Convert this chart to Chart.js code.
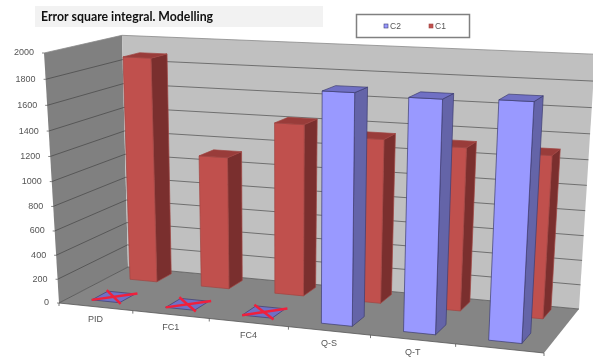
<!DOCTYPE html>
<html>
<head>
<meta charset="utf-8">
<style>
  html, body { margin: 0; padding: 0; background: #fff; }
  #wrap { width: 593px; height: 357px; }
</style>
<script src="https://cdn.jsdelivr.net/npm/chart.js@4"></script>
</head>
<body>
<div id="wrap"><canvas id="chart" width="593" height="357"></canvas></div>
<script>
const categories = ['PID', 'FC1', 'FC4', 'Q-S', 'Q-T', 'Q-F'];
const c2Values = [0, 0, 0, 1790, 1775, 1790];
const c1Values = [1875, 1105, 1410, 1330, 1305, 1285];
const yTicks = [0, 200, 400, 600, 800, 1000, 1200, 1400, 1600, 1800, 2000];

// box corners as seen in the picture
const floorQuad = [[59, 303], [544, 353], [579, 309], [128, 267]];
const frontTop = [44, 53];
const verticalVanish = [312, 4526];
const backLean = 4; // the back left corner stands a bit straighter than the perspective says
// depth rows of the two series, 0 = front edge of the floor, 1 = back wall
const rows = { C2: [0.14, 0.37], C1: [0.70, 0.93] };
const barShare = 0.38;

// unit square -> quad, plus the lift for the value axis
function makeProjection(q, top, vv) {
    const [[x0, y0], [x1, y1], [x2, y2], [x3, y3]] = q;
    const dx1 = x1 - x2, dx2 = x3 - x2, sx = x0 - x1 + x2 - x3;
    const dy1 = y1 - y2, dy2 = y3 - y2, sy = y0 - y1 + y2 - y3;
    const det = dx1 * dy2 - dx2 * dy1;
    const g = (sx * dy2 - dx2 * sy) / det;
    const h = (dx1 * sy - sx * dy1) / det;
    const a = x1 - x0 + g * x1, b = x3 - x0 + h * x3;
    const d = y1 - y0 + g * y1, e = y3 - y0 + h * y3;
    const k = (top[1] - y0) / (vv[1] - top[1]);
    // u along the categories, v into the depth, z = 0..1 up the value axis
    return (u, v, z) => {
        const w = g * u + h * v + k * z + 1;
        return [
            (a * u + b * v + vv[0] * k * z + x0) / w + backLean * z * v * (1 - u),
            (d * u + e * v + vv[1] * k * z + y0) / w
        ];
    };
}
const project = makeProjection(floorQuad, frontTop, verticalVanish);

function poly(ctx, pts, fill, stroke) {
    ctx.beginPath();
    pts.forEach((p, i) => i ? ctx.lineTo(p[0], p[1]) : ctx.moveTo(p[0], p[1]));
    ctx.closePath();
    if (fill) { ctx.fillStyle = fill; ctx.fill(); }
    if (stroke) { ctx.strokeStyle = stroke; ctx.lineWidth = 0.7; ctx.stroke(); }
}

function line(ctx, a, b, color, width) {
    ctx.beginPath();
    ctx.moveTo(a[0], a[1]);
    ctx.lineTo(b[0], b[1]);
    ctx.strokeStyle = color;
    ctx.lineWidth = width;
    ctx.stroke();
}

class Bar3DController extends Chart.BarController {
    draw() {
        const chart = this.chart, ctx = chart.ctx;
        const ds = this.getDataset();
        const xs = chart.scales.x, ys = chart.scales.y;
        const [d0, d1] = rows[ds.label];
        const n = ds.data.length;
        for (let i = n - 1; i >= 0; i--) {
            const cu = xs.getDecimalForPixel(xs.getPixelForValue(i));
            const half = barShare / n / 2;
            const z = ys.getDecimalForPixel(ys.getPixelForValue(ds.data[i]));
            const u0 = cu - half, u1 = cu + half;
            const a = project(u0, d0, z), b = project(u1, d0, z);
            const c = project(u1, d1, z), e = project(u0, d1, z);
            const af = project(u0, d0, 0), bf = project(u1, d0, 0), cf = project(u1, d1, 0);
            if (ds.data[i] > 0) {
                poly(ctx, [b, c, cf, bf], ds.sideColor, ds.edgeColor);
                poly(ctx, [af, bf, b, a], ds.backgroundColor, ds.edgeColor);
            }
            poly(ctx, [a, b, c, e], ds.topColor, ds.edgeColor);
            if (ds.data[i] === 0) {
                // red cross the author put on the missing results
                const ext = (p, q, k) => [p[0] + (p[0] - q[0]) * k, p[1] + (p[1] - q[1]) * k];
                line(ctx, a, ext(c, a, 0.05), '#f0203c', 2.5);
                line(ctx, ext(b, e, 0.1), ext(e, b, 0.1), '#f0203c', 2.5);
            }
        }
    }
}
Bar3DController.id = 'bar3d';
Bar3DController.defaults = Chart.BarController.defaults;
Chart.register(Bar3DController);

const boxPlugin = {
    id: 'box',
    beforeDatasetsDraw(chart) {
        const ctx = chart.ctx, ys = chart.scales.y, xs = chart.scales.x;
        ctx.save();
        // walls and floor
        poly(ctx, [project(0, 0, 0), project(0, 1, 0), project(0, 1, 1), project(0, 0, 1)], '#808080');
        poly(ctx, [project(0, 1, 0), project(1, 1, 0), project(1, 1, 1), project(0, 1, 1)], '#c0c0c0');
        poly(ctx, floorQuad, '#858585');

        // value gridlines and labels
        ctx.font = '9px "Liberation Sans"';
        ctx.textAlign = 'right';
        ctx.textBaseline = 'middle';
        yTicks.forEach(t => {
            const z = ys.getDecimalForPixel(ys.getPixelForValue(t));
            const f = project(0, 0, z), b = project(0, 1, z), r = project(1, 1, z);
            line(ctx, f, b, t === 2000 ? '#8a8a8a' : '#4d4d4d', 0.8);
            line(ctx, b, r, t === 2000 ? '#8a8a8a' : '#5a5a5a', 0.8);
            line(ctx, f, [f[0] - 2, f[1]], '#666', 0.8);
            ctx.fillStyle = '#555';
            ctx.fillText(String(t), f[0] - 10, f[1]);
        });

        // category axis
        line(ctx, project(0, 0, 0), project(1, 0, 0), '#555', 0.8);
        ctx.textAlign = 'center';
        const n = categories.length;
        for (let i = 0; i <= n; i++) {
            const t = project(i / n, 0, 0);
            line(ctx, t, [t[0], t[1] + 3], '#555', 0.8);
        }
        categories.forEach((c, i) => {
            const cu = xs.getDecimalForPixel(xs.getPixelForValue(i));
            const p = project(cu, 0, 0);
            ctx.fillStyle = '#555';
            ctx.fillText(c, p[0], p[1] + 13);
        });
        ctx.restore();
    },
    afterDraw(chart) {
        const ctx = chart.ctx;
        ctx.save();
        // legend frame, series order as in the datasets
        ctx.strokeStyle = '#808080';
        ctx.lineWidth = 1.5;
        ctx.strokeRect(356.5, 14.5, 113, 23);
        ctx.font = '8.5px "Liberation Sans"';
        ctx.textAlign = 'left';
        ctx.textBaseline = 'middle';
        chart.data.datasets.forEach((ds, i) => {
            const x = 384 + i * 45;
            ctx.fillStyle = ds.backgroundColor;
            ctx.fillRect(x, 24, 4, 4);
            ctx.strokeStyle = ds.edgeColor;
            ctx.lineWidth = 0.6;
            ctx.strokeRect(x, 24, 4, 4);
            ctx.fillStyle = '#555';
            ctx.fillText(ds.label, x + 6, 26.5);
        });
        ctx.restore();
    },
    beforeDraw(chart) {
        const ctx = chart.ctx;
        ctx.fillStyle = '#f2f2f2';
        ctx.fillRect(35, 6, 288, 21);
    }
};

new Chart(document.getElementById('chart'), {
    type: 'bar3d',
    data: {
        labels: categories,
        datasets: [
            { label: 'C2', data: c2Values, backgroundColor: '#9999ff', sideColor: '#6464a8', topColor: '#7070c4', edgeColor: '#3c3c70' },
            { label: 'C1', data: c1Values, backgroundColor: '#c0504d', sideColor: '#7a2f2e', topColor: '#993c3a', edgeColor: '#a04542' }
        ]
    },
    options: {
        responsive: false,
        animation: false,
        layout: { padding: { left: 41, top: 0 } },
        plugins: {
            legend: { display: false },
            tooltip: { enabled: false },
            title: {
                display: true,
                text: 'Error square integral. Modelling',
                align: 'start',
                color: '#111',
                font: { family: 'Lato', size: 12.3, weight: 'bold' },
                padding: { top: 10, bottom: 4 }
            }
        },
        scales: {
            x: { display: false },
            y: { display: false, min: 0, max: 2000 }
        }
    },
    plugins: [boxPlugin]
});
</script>
</body>
</html>
